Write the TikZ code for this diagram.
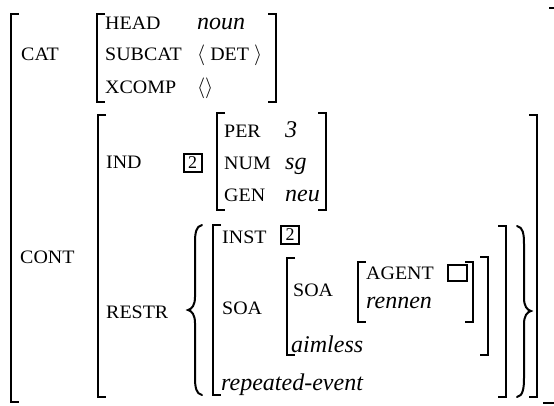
\documentclass[tikz,border=0pt]{standalone}
\usepackage{fontspec}
\setmainfont{Liberation Serif}
\newfontfamily\featfont{Liberation Serif}[FakeStretch=1.05]
\usetikzlibrary{calc}
\newcommand\angl[1]{{\fontsize{22}{22}\selectfont$#1$}}
\begin{document}
\begin{tikzpicture}[x=1pt,y=-1pt,
  br/.style={line width=1.6pt},
  brace/.style={line width=2pt,line cap=round},
  ft/.style={anchor=base west,inner sep=0pt,font=\featfont\fontsize{19}{20}\selectfont},
  vl/.style={anchor=base west,inner sep=0pt,font=\fontsize{24}{26}\selectfont\itshape},
  tag/.style={draw,line width=2pt,minimum size=18pt,inner sep=0pt,font=\fontsize{18}{18}\selectfont},
  emptybox/.style={draw,line width=2pt,minimum width=19pt,minimum height=16pt,inner sep=0pt}]
\useasboundingbox (0,0) rectangle (554,405);
\newcommand\LBr[3]{\draw[br] (#1+8,#2) -- (#1,#2) -- (#1,#3) -- (#1+8,#3);}
\newcommand\RBr[3]{\draw[br] (#1-8,#2) -- (#1,#2) -- (#1,#3) -- (#1-8,#3);}
% outer
\LBr{11}{14}{402}
\draw[br] (549,8) -- (556,8) -- (556,403) -- (543,403);
% CAT
\LBr{97}{14}{102}
\RBr{276}{14}{102}
% CONT
\LBr{98}{115}{397}
\RBr{537}{115}{397}
% IND value
\LBr{217}{113}{210}
\RBr{326}{113}{210}
% RESTR element
\LBr{213}{225}{395}
\RBr{506}{226}{397}
% SOA outer value
\LBr{287}{258}{355}
\RBr{488}{257}{355}
% SOA inner value
\LBr{358}{262}{322}
\RBr{473}{262}{322}
% braces
\draw[brace] (202,225) .. controls (196,226) and (195,233) .. (195,243) -- (195,297) .. controls (195,305) and (192,309) .. (188,310) .. controls (192,311) and (195,315) .. (195,323) -- (195,377) .. controls (195,387) and (196,394) .. (202,395);
\draw[brace] (517,226) .. controls (523,227) and (524,234) .. (524,244) -- (524,298) .. controls (524,306) and (527,310) .. (531,311) .. controls (527,312) and (524,316) .. (524,324) -- (524,378) .. controls (524,388) and (523,396) .. (517,397);
% CAT
\node[ft] (cat) at (21,60) {CAT};
\node[ft] (head) at (105,29) {HEAD};
\node[vl] (noun) at (197,29) {noun};
\node[ft] (subcat) at (105,60) {SUBCAT};
\node[ft] (det) at (197,60) {\angl{\langle}\ DET\ \angl{\rangle}};
\node[ft] (xcomp) at (105,93) {XCOMP};
\node[ft] (empty) at (197,93) {\angl{\langle\rangle}};
% CONT
\node[ft] (cont) at (20,263) {CONT};
\node[ft] (ind) at (106,168) {IND};
\node[tag] (t2a) at (192.5,163) {2};
\node[ft] (per) at (224,137) {PER};
\node[vl] (three) at (285,137) {3};
\node[ft] (num) at (224,169) {NUM};
\node[vl] (sg) at (285,169) {sg};
\node[ft] (gen) at (224,201) {GEN};
\node[vl] (neu) at (285,201) {neu};
\node[ft] (restr) at (106,318) {RESTR};
\node[ft] (inst) at (222,243) {INST};
\node[tag] (t2b) at (290,235) {2};
\node[ft] (soa1) at (222,314) {SOA};
\node[ft] (soa2) at (293,296) {SOA};
\node[ft] (agent) at (366,279) {AGENT};
\node[emptybox] (ebox) at (457.5,273) {};
\node[vl] (rennen) at (366,308) {rennen};
\node[vl] (aimless) at (291,352) {aimless};
\node[vl] (rep) at (221,390) {repeated-event};
\end{tikzpicture}
\end{document}
